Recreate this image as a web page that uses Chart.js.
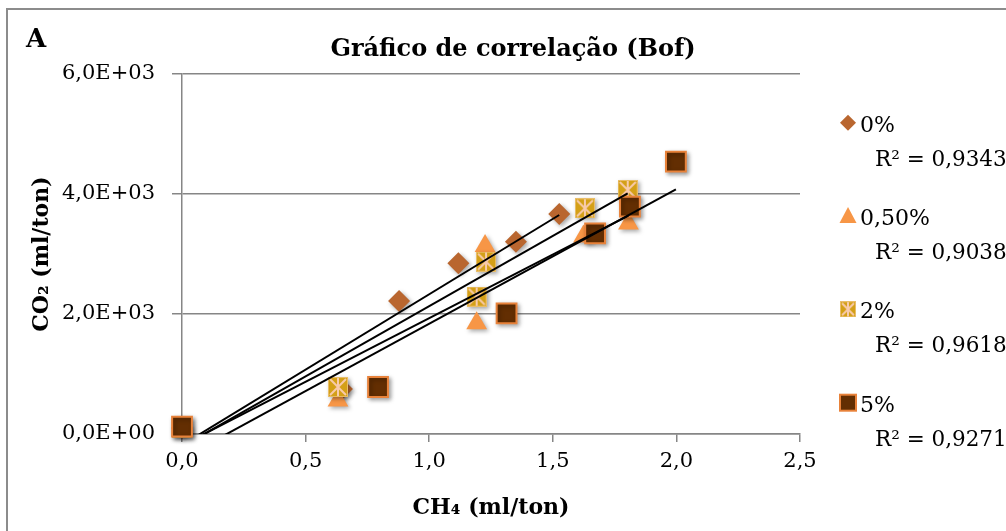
<!DOCTYPE html>
<html lang="pt">
<head>
<meta charset="utf-8">
<title>Gráfico de correlação (Bof)</title>
<script src="https://cdn.jsdelivr.net/npm/chart.js@4.4.1/dist/chart.umd.min.js"></script>
<style>
  html, body { margin: 0; padding: 0; background: #fff; }
  #wrap { width: 1006px; height: 531px; position: relative; }
</style>
</head>
<body>
<div id="wrap"><canvas id="correlChart" width="1006" height="531"></canvas></div>
<script>
// Valores (CH4 e CO2 em ml/ton)
const seriesNames = ['0%', '0,50%', '2%', '5%'];
const r2Labels = ['R² = 0,9343', 'R² = 0,9038', 'R² = 0,9618', 'R² = 0,9271'];

const ch4_0 = [0, 0.647, 0.878, 1.118, 1.351, 1.526];
const co2_0 = [100, 750, 2217, 2845, 3205, 3667];

const ch4_05 = [0, 0.631, 1.192, 1.226, 1.624, 1.806];
const co2_05 = [100, 560, 1845, 3133, 3290, 3510];

const ch4_2 = [0, 0.631, 1.192, 1.230, 1.630, 1.803];
const co2_2 = [100, 783, 2289, 2872, 3761, 4067];

const ch4_5 = [0, 0.793, 1.313, 1.671, 1.812, 1.998];
const co2_5 = [122, 783, 2011, 3345, 3789, 4539];

// linhas de tendência (valor em CH4 = 0 e no último ponto de cada série)
const trendStartY = [-183, -190, -210, -406];
const trendEndY = [3650, 3640, 4011, 4078];

const xTickLabels = ['0,0', '0,5', '1,0', '1,5', '2,0', '2,5'];
const yTickLabels = ['0,0E+00', '2,0E+03', '4,0E+03', '6,0E+03'];

const SERIF = "'DejaVu Serif', 'Liberation Serif', serif";
const colDiamond = '#B9662F';
const colTriangle = '#F79646';
const colGold = '#D4A017';
const colPink = '#F8CBAD';
const colBrown = '#632E02';
const colBrownEdge = '#E8823A';

// marcador do 2%: quadrado dourado com asterisco rosa
function makeStarBox(size) {
    const c = document.createElement('canvas');
    c.width = size; c.height = size;
    const g = c.getContext('2d');
    g.fillStyle = colGold;
    g.fillRect(0, 0, size, size);
    g.strokeStyle = '#E9BE6A';
    g.lineWidth = 1;
    g.strokeRect(0.5, 0.5, size - 1, size - 1);
    g.strokeStyle = colPink;
    g.lineWidth = 2;
    g.beginPath();
    g.moveTo(2, 2); g.lineTo(size - 2, size - 2);
    g.moveTo(size - 2, 2); g.lineTo(2, size - 2);
    g.moveTo(size / 2, 1); g.lineTo(size / 2, size - 1);
    g.stroke();
    return c;
}
const starBoxChart = makeStarBox(20);
const starBoxLegend = makeStarBox(16);

const toPoints = (xs, ys) => xs.map((x, i) => ({ x: x, y: ys[i] }));
const lastX = [ch4_0, ch4_05, ch4_2, ch4_5].map(a => a[a.length - 1]);

const trendSets = trendStartY.map((y0, i) => ({
    label: 'tendência ' + seriesNames[i],
    data: [{ x: 0, y: y0 }, { x: lastX[i], y: trendEndY[i] }],
    showLine: true,
    borderColor: '#000',
    borderWidth: 2,
    pointRadius: 0,
    clip: 0,
    order: 0
}));

const pointSets = [
    { label: seriesNames[0], data: toPoints(ch4_0, co2_0), pointStyle: 'rectRot', pointRadius: 11,
      backgroundColor: colDiamond, borderColor: colDiamond, borderWidth: 0, order: 4 },
    { label: seriesNames[1], data: toPoints(ch4_05, co2_05), pointStyle: 'triangle', pointRadius: 12,
      backgroundColor: colTriangle, borderColor: colTriangle, borderWidth: 0, order: 3 },
    { label: seriesNames[2], data: toPoints(ch4_2, co2_2), pointStyle: starBoxChart, pointRadius: 10,
      backgroundColor: colGold, borderColor: colGold, borderWidth: 0, order: 2 },
    { label: seriesNames[3], data: toPoints(ch4_5, co2_5), pointStyle: 'rect', pointRadius: 14,
      backgroundColor: colBrown, borderColor: colBrownEdge, borderWidth: 2, order: 1 }
].map(ds => Object.assign(ds, { showLine: false, clip: false, shadow: true }));

// sombra leve nos marcadores
const shadowPlugin = {
    id: 'markerShadow',
    beforeDatasetDraw(chart, args) {
        const ds = chart.data.datasets[args.index];
        if (!ds.shadow) return;
        const c = chart.ctx;
        c.save();
        c.shadowColor = 'rgba(0,0,0,0.35)';
        c.shadowBlur = 4;
        c.shadowOffsetX = 2;
        c.shadowOffsetY = 2;
    },
    afterDatasetDraw(chart, args) {
        const ds = chart.data.datasets[args.index];
        if (ds.shadow) chart.ctx.restore();
    }
};

// moldura, letra "A", título e legenda com R²
const decorPlugin = {
    id: 'decor',
    beforeDraw(chart) {
        const c = chart.ctx;
        c.save();
        c.fillStyle = '#fff';
        c.fillRect(0, 0, chart.width, chart.height);
        c.strokeStyle = '#8c8c8c';
        c.lineWidth = 2;
        c.strokeRect(7, 9, 1100, 600);
        c.restore();
    },
    afterDraw(chart) {
        const c = chart.ctx;
        c.save();
        c.fillStyle = '#000';
        c.textBaseline = 'alphabetic';
        c.textAlign = 'left';
        c.font = 'bold 26px ' + SERIF;
        c.fillText('A', 26, 47);
        c.textAlign = 'center';
        c.font = 'bold 24px ' + SERIF;
        c.fillText('Gráfico de correlação (Bof)', 513, 56);

        const rowY = [131.7, 225, 318.3, 411.7];
        const mx = 848;
        rowY.forEach((by, i) => {
            const my = by - 9;
            c.save();
            if (i === 0) {
                c.fillStyle = colDiamond;
                c.beginPath();
                c.moveTo(mx, my - 8); c.lineTo(mx + 8, my); c.lineTo(mx, my + 8); c.lineTo(mx - 8, my);
                c.closePath(); c.fill();
            } else if (i === 1) {
                c.fillStyle = colTriangle;
                c.beginPath();
                c.moveTo(mx, my - 9); c.lineTo(mx + 8.5, my + 7); c.lineTo(mx - 8.5, my + 7);
                c.closePath(); c.fill();
            } else if (i === 2) {
                c.drawImage(starBoxLegend, mx - 8, my - 8, 16, 16);
            } else {
                c.fillStyle = colBrown;
                c.fillRect(mx - 8, my - 8, 16, 16);
                c.strokeStyle = colBrownEdge;
                c.lineWidth = 2;
                c.strokeRect(mx - 8, my - 8, 16, 16);
            }
            c.restore();
            c.textAlign = 'left';
            c.font = '22px ' + SERIF;
            c.fillText(seriesNames[i], 860, by);
            c.font = '21.5px ' + SERIF;
            c.fillText(r2Labels[i], 875, by + 34);
        });
        c.restore();
    }
};

const gridGray = '#868686';

new Chart(document.getElementById('correlChart'), {
    type: 'scatter',
    data: { datasets: trendSets.concat(pointSets) },
    options: {
        responsive: false,
        animation: false,
        devicePixelRatio: 1,
        layout: { padding: { top: 74, right: 206, bottom: 0, left: 0 } },
        plugins: {
            legend: { display: false },
            title: { display: false },
            tooltip: { enabled: false }
        },
        scales: {
            x: {
                type: 'linear',
                min: 0,
                max: 2.5,
                afterFit(scale) { scale.height = 97; },
                ticks: {
                    stepSize: 0.5,
                    padding: 7,
                    color: '#000',
                    font: { family: SERIF, size: 21 },
                    callback: (v, i) => xTickLabels[i]
                },
                grid: { drawOnChartArea: false, color: gridGray, lineWidth: 1.5, tickLength: 8 },
                border: { color: gridGray, width: 1.5 },
                title: {
                    display: true,
                    text: 'CH₄ (ml/ton)',
                    color: '#000',
                    font: { family: SERIF, size: 22, weight: 'bold' },
                    padding: { top: 0, bottom: 10 }
                }
            },
            y: {
                type: 'linear',
                min: 0,
                max: 6000,
                afterFit(scale) { scale.width = 182; },
                ticks: {
                    stepSize: 2000,
                    padding: 17,
                    color: '#000',
                    font: { family: SERIF, size: 21 },
                    callback: (v, i) => yTickLabels[i]
                },
                grid: { color: gridGray, lineWidth: 1.5, tickLength: 10 },
                border: { color: gridGray, width: 1.5 },
                title: {
                    display: true,
                    text: 'CO₂ (ml/ton)',
                    color: '#000',
                    font: { family: SERIF, size: 22, weight: 'bold' },
                    padding: { top: 29, bottom: 0 }
                }
            }
        }
    },
    plugins: [decorPlugin, shadowPlugin]
});
</script>
</body>
</html>
